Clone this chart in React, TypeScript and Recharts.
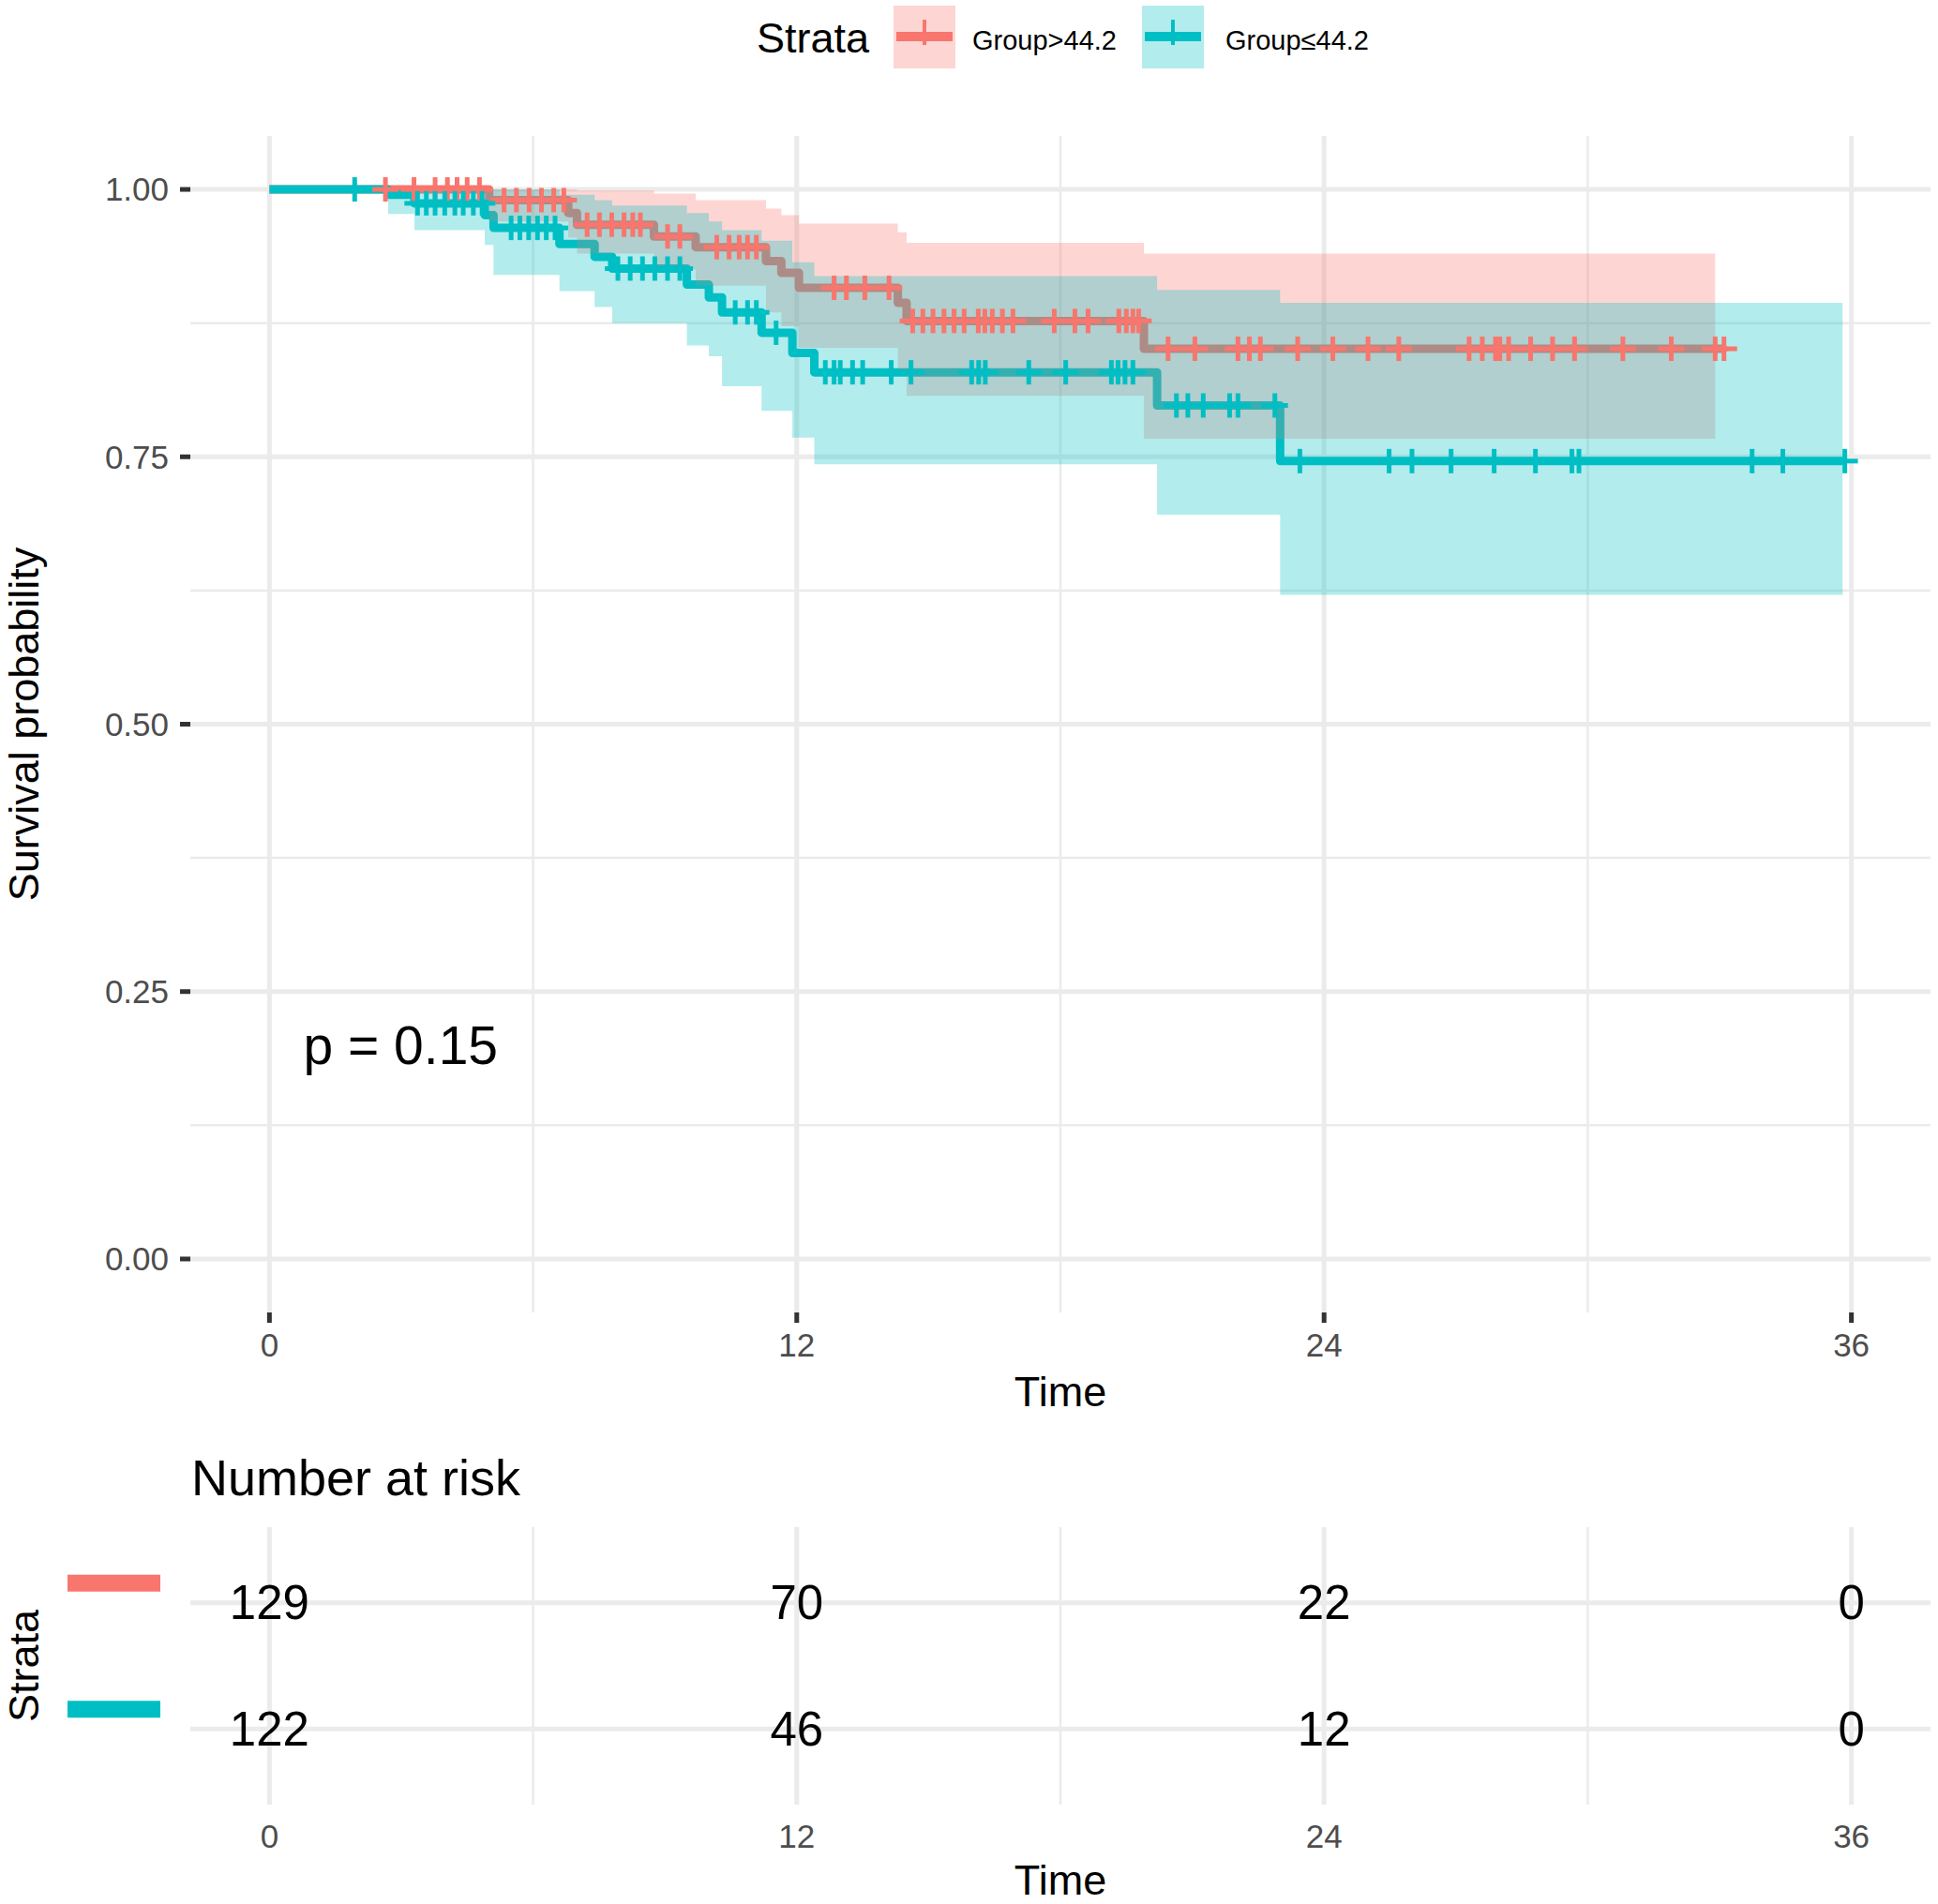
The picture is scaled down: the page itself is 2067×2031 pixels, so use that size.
import React from 'react';
import {
  ComposedChart, Line, Area, Scatter, XAxis, YAxis, CartesianGrid, ReferenceDot, Label,
} from 'recharts';

const RED = '#F8766D';
const TEAL = '#00BFC4';
const GRID = '#EBEBEB';
const FONT = '"Liberation Sans", Arial, Helvetica, sans-serif';

// Group>44.2 : step times, survival, lower / upper confidence limits
const highTime = [0, 5.0, 6.8, 7.0, 8.75, 9.7, 11.3, 11.65, 12.05, 14.3, 14.5, 19.9, 33.1];
const highSurv = [1, 0.99, 0.978, 0.967, 0.956, 0.946, 0.933, 0.922, 0.908, 0.894, 0.877, 0.851, 0.851];
const highLower = [1, 0.97, 0.955, 0.94, 0.925, 0.91, 0.885, 0.872, 0.852, 0.83, 0.807, 0.767, 0.767];
const highUpper = [1, 1, 1, 0.999, 0.996, 0.99, 0.982, 0.976, 0.968, 0.96, 0.95, 0.94, 0.94];
const highBandEnd = 32.9;
const highCensor = [
  2.64, 3.29, 3.77, 4.05, 4.27, 4.5, 4.78,
  5.34, 5.62, 5.91, 6.19, 6.47, 6.7,
  7.23, 7.51, 7.79, 8.07, 8.27, 8.44,
  9.06, 9.34,
  10.18, 10.46, 10.69, 10.88, 11.08,
  12.85, 13.13, 13.55, 14.1,
  14.64, 14.87, 15.1, 15.35, 15.58, 15.81, 16.13, 16.28, 16.45, 16.68, 16.92,
  17.86, 18.33, 18.63, 19.33, 19.5, 19.65, 19.78,
  20.45, 21.06, 22.04, 22.3, 22.55, 23.4, 24.2, 25.0, 25.7, 27.3, 27.6, 27.9,
  28.0, 28.2, 28.7, 29.2, 29.7, 30.8, 31.9, 32.9, 33.1,
];

// Group≤44.2
const lowTime = [0, 2.7, 3.3, 4.9, 5.1, 6.6, 7.4, 7.8, 9.5, 10.0, 10.3, 11.2, 11.9, 12.4, 20.2, 23.0, 35.8];
const lowSurv = [1, 0.995, 0.987, 0.976, 0.964, 0.949, 0.937, 0.926, 0.911, 0.899, 0.885, 0.866, 0.847, 0.829, 0.798, 0.746, 0.746];
const lowLower = [1, 0.977, 0.962, 0.948, 0.92, 0.905, 0.89, 0.875, 0.854, 0.844, 0.816, 0.793, 0.768, 0.743, 0.696, 0.621, 0.621];
const lowUpper = [1, 1, 1, 1, 1, 0.995, 0.99, 0.985, 0.978, 0.97, 0.962, 0.952, 0.932, 0.919, 0.906, 0.894, 0.894];
const lowBandEnd = 35.8;
const lowCensor = [
  1.94,
  3.37, 3.57, 3.77, 3.99, 4.22, 4.41, 4.64, 4.84,
  5.5, 5.7, 5.9, 6.1, 6.3, 6.5,
  7.93, 8.21, 8.49, 8.77, 9.06, 9.34,
  10.6, 10.88, 11.08,
  11.53,
  12.65, 12.85, 12.99, 13.27, 13.5, 14.15, 14.6, 15.98, 16.14, 16.29, 17.28, 18.12,
  19.16, 19.31, 19.47, 19.65,
  20.64, 20.9, 21.25, 21.85, 22.04, 22.88,
  23.45, 25.48, 26.0, 26.89, 27.87, 28.81, 29.64, 29.8, 33.74, 34.44, 35.85,
];

// number at risk
const riskTimes = [0, 12, 24, 36];
const riskHigh = [129, 70, 22, 0];
const riskLow = [122, 46, 12, 0];

const xTicks = [0, 12, 24, 36];
const yTicks = [0, 0.25, 0.5, 0.75, 1];

const lineRows = (time: number[], surv: number[]) => time.map((t, i) => ({ t, s: surv[i] }));
const bandRows = (time: number[], lo: number[], hi: number[], end: number) =>
  time.map((t, i) => ({ t: i === time.length - 1 ? end : t, band: [lo[i], hi[i]] }));

// survival value at a censoring time
const survAt = (time: number[], surv: number[], x: number) => {
  let v = surv[0];
  for (let i = 0; i < time.length; i++) if (time[i] <= x) v = surv[i];
  return v;
};

const highLine = lineRows(highTime, highSurv);
const lowLine = lineRows(lowTime, lowSurv);
const highBand = bandRows(highTime, highLower, highUpper, highBandEnd);
const lowBand = bandRows(lowTime, lowLower, lowUpper, lowBandEnd);
const highMarks = highCensor.map((t) => ({ t, s: survAt(highTime, highSurv, t) }));
const lowMarks = lowCensor.map((t) => ({ t, s: survAt(lowTime, lowSurv, t) }));
const riskRows = [
  ...riskTimes.map((t, i) => ({ t, row: 1, n: riskHigh[i] })),
  ...riskTimes.map((t, i) => ({ t, row: 2, n: riskLow[i] })),
];

const PlusMark = (props: any) => {
  const { cx, cy, color } = props;
  if (cx == null || cy == null) return null;
  return (
    <g>
      <line x1={cx - 14} x2={cx + 14} y1={cy} y2={cy} stroke={color} strokeWidth={5} />
      <line x1={cx} x2={cx} y1={cy - 13} y2={cy + 13} stroke={color} strokeWidth={5} />
    </g>
  );
};

const RiskText = (props: any) => {
  const { cx, cy, payload } = props;
  return (
    <text x={cx} y={cy} textAnchor="middle" dominantBaseline="central" fontSize={51} fontFamily={FONT} fill="#000">
      {payload.n}
    </text>
  );
};

const StrataTick = (props: any) => {
  const { y, payload } = props;
  return <rect x={72} y={y - 30} width={99} height={18} fill={payload.value === 1 ? RED : TEAL} />;
};

const axisTitle = (text: string, dy: number) => (props: any) => {
  const vb = props.viewBox;
  return (
    <text x={vb.x + vb.width / 2} y={vb.y + dy} textAnchor="middle" dominantBaseline="central" fontSize={45} fontFamily={FONT} fill="#000">
      {text}
    </text>
  );
};

const sideTitle = (text: string) => (props: any) => {
  const vb = props.viewBox;
  const x = vb.x + 25;
  const y = vb.y + vb.height / 2;
  return (
    <text x={x} y={y} transform={`rotate(-90 ${x} ${y})`} textAnchor="middle" dominantBaseline="central" fontSize={45} fontFamily={FONT} fill="#000">
      {text}
    </text>
  );
};

const tickStyle = { fill: '#4D4D4D', fontSize: 35, fontFamily: FONT };

const LegendKey = ({ x, color, fill }: { x: number; color: string; fill: string }) => (
  <g>
    <rect x={x} y={6} width={66} height={67} fill={fill} />
    <rect x={x + 3} y={34} width={60} height={10} fill={color} />
    <rect x={x + 31} y={21} width={4} height={27} fill={color} />
  </g>
);

const App: React.FC = () => (
  <div style={{ position: 'absolute', left: 0, top: 0, width: 2067, height: 2031, background: '#fff', fontFamily: FONT }}>
    <div style={{ position: 'absolute', left: 0, top: 0 }}>
      <ComposedChart width={2067} height={1530} margin={{ top: 145, right: 8, bottom: 20, left: 0 }}>
        <CartesianGrid stroke={GRID} strokeWidth={2.5} syncWithTicks horizontalValues={[0.125, 0.375, 0.625, 0.875]} verticalValues={[6, 18, 30]} />
        <CartesianGrid stroke={GRID} strokeWidth={5} syncWithTicks />
        <XAxis
          dataKey="t" type="number" domain={[-1.8, 37.8]} ticks={xTicks} allowDataOverflow
          axisLine={false} tickSize={11} tickMargin={11} tickLine={{ stroke: '#333333', strokeWidth: 5 }}
          tick={tickStyle} height={110}
        >
          <Label content={axisTitle('Time', 84)} />
        </XAxis>
        <YAxis
          type="number" domain={[-0.05, 1.05]} ticks={yTicks} allowDataOverflow width={203}
          axisLine={false} tickSize={11} tickMargin={12} tickLine={{ stroke: '#333333', strokeWidth: 5 }}
          tick={tickStyle} tickFormatter={(v: number) => v.toFixed(2)}
        >
          <Label content={sideTitle('Survival probability')} />
        </YAxis>
        <Line data={highLine} dataKey="s" type="stepAfter" stroke={RED} strokeWidth={9} strokeLinejoin="round" dot={false} activeDot={false} isAnimationActive={false} zIndex={100} />
        <Line data={lowLine} dataKey="s" type="stepAfter" stroke={TEAL} strokeWidth={9} strokeLinejoin="round" dot={false} activeDot={false} isAnimationActive={false} zIndex={101} />
        <Area data={highBand} dataKey="band" type="stepAfter" fill={RED} fillOpacity={0.3} stroke="none" dot={false} activeDot={false} isAnimationActive={false} zIndex={200} />
        <Area data={lowBand} dataKey="band" type="stepAfter" fill={TEAL} fillOpacity={0.3} stroke="none" dot={false} activeDot={false} isAnimationActive={false} zIndex={201} />
        <Scatter data={highMarks} dataKey="s" shape={(p: any) => <PlusMark {...p} color={RED} />} isAnimationActive={false} zIndex={300} />
        <Scatter data={lowMarks} dataKey="s" shape={(p: any) => <PlusMark {...p} color={TEAL} />} isAnimationActive={false} zIndex={301} />
        <ReferenceDot
          x={0.77} y={0.2} r={0}
          shape={(p: any) => (
            <text x={p.cx} y={p.cy} dominantBaseline="central" fontSize={57} fontFamily={FONT} fill="#000">p = 0.15</text>
          )}
        />
      </ComposedChart>
    </div>

    <div style={{ position: 'absolute', left: 0, top: 1540 }}>
      <ComposedChart width={2067} height={491} margin={{ top: 89, right: 8, bottom: 6, left: 0 }}>
        <CartesianGrid stroke={GRID} strokeWidth={2.5} syncWithTicks horizontal={false} verticalValues={[6, 18, 30]} />
        <CartesianGrid stroke={GRID} strokeWidth={5} syncWithTicks />
        <XAxis
          dataKey="t" type="number" domain={[-1.8, 37.8]} ticks={xTicks} allowDataOverflow
          axisLine={false} tickLine={false} tickSize={0} tickMargin={21} tick={tickStyle} height={100}
        >
          <Label content={axisTitle('Time', 80)} />
        </XAxis>
        <YAxis
          type="number" domain={[0.4, 2.6]} reversed ticks={[1, 2]} width={203}
          axisLine={false} tickLine={false} tick={<StrataTick />}
        >
          <Label content={sideTitle('Strata')} />
        </YAxis>
        <Scatter data={riskRows} dataKey="row" shape={(p: any) => <RiskText {...p} />} isAnimationActive={false} />
      </ComposedChart>
    </div>

    <svg width={2067} height={80} style={{ position: 'absolute', left: 0, top: 0 }}>
      <text x={807} y={40} dominantBaseline="central" fontSize={45} fontFamily={FONT} fill="#000">Strata</text>
      <LegendKey x={953} color={RED} fill="#FDD6D3" />
      <text x={1037} y={43} dominantBaseline="central" fontSize={29} fontFamily={FONT} fill="#000">Group&gt;44.2</text>
      <LegendKey x={1218} color={TEAL} fill="#B3ECED" />
      <text x={1307} y={43} dominantBaseline="central" fontSize={29} fontFamily={FONT} fill="#000">Group≤44.2</text>
    </svg>

    <svg width={800} height={80} style={{ position: 'absolute', left: 0, top: 1540 }}>
      <text x={204} y={55} fontSize={54} fontFamily={FONT} fill="#000">Number at risk</text>
    </svg>
  </div>
);

export default App;
